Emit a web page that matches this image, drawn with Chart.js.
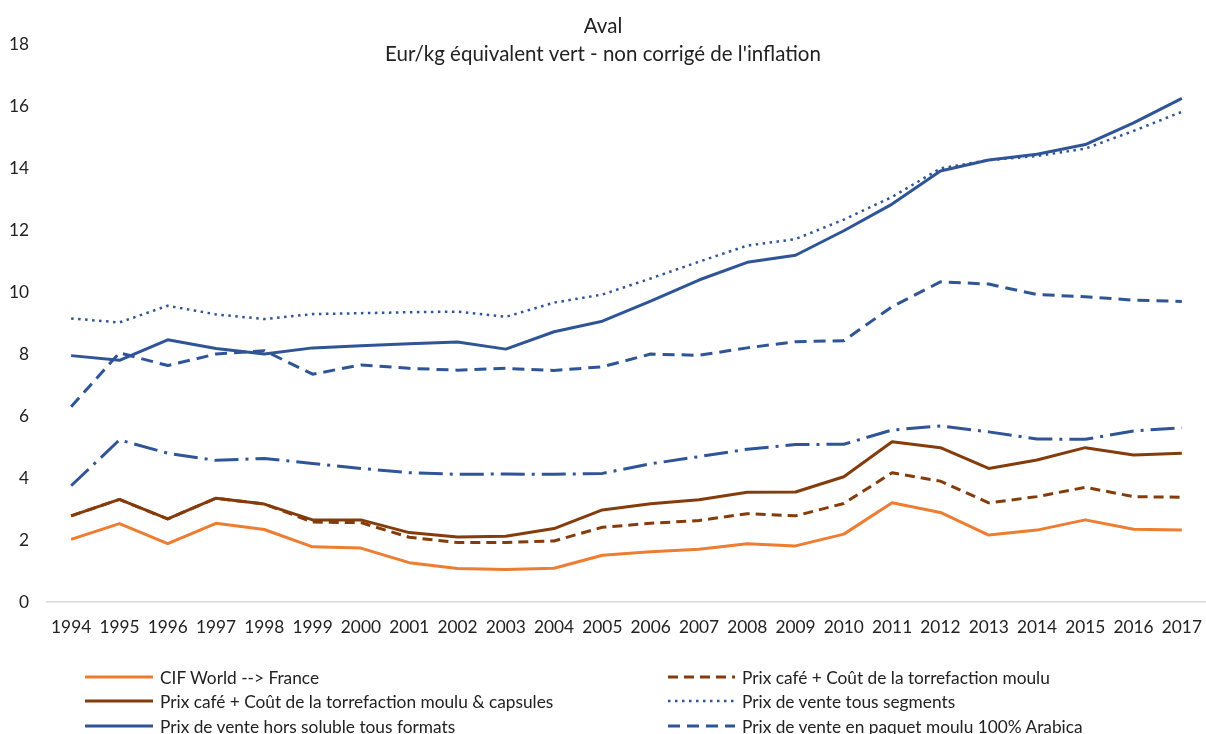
<!DOCTYPE html>
<html>
<head>
<meta charset="utf-8">
<script src="https://cdn.jsdelivr.net/npm/chart.js@4.4.1/dist/chart.umd.min.js"></script>
<style>
  html, body { margin: 0; padding: 0; background: #fff; }
  #wrap { position: relative; width: 1206px; height: 734px; overflow: hidden; }
  #c { position: absolute; left: 0; top: 0; }
  .lg { position: absolute; font-family: Lato, "Open Sans", sans-serif; font-size: 17.3px; color: #222; white-space: nowrap; display: flex; align-items: center; height: 22px; }
  .lg svg { margin-right: 7px; }
</style>
</head>
<body>
<div id="wrap">
  <canvas id="c" width="1206" height="734"></canvas>
  <div id="legend"></div>
</div>
<script>
// ---- Data ----
const years = ['1994','1995','1996','1997','1998','1999','2000','2001','2002','2003','2004','2005','2006','2007','2008','2009','2010','2011','2012','2013','2014','2015','2016','2017'];
const cifWorldFrance = [2.02, 2.53, 1.88, 2.54, 2.34, 1.78, 1.74, 1.27, 1.08, 1.05, 1.09, 1.51, 1.62, 1.70, 1.88, 1.81, 2.19, 3.20, 2.89, 2.16, 2.32, 2.65, 2.35, 2.32];
const prixMoulu = [2.78, 3.31, 2.68, 3.35, 3.16, 2.58, 2.56, 2.09, 1.92, 1.92, 1.97, 2.41, 2.54, 2.63, 2.85, 2.78, 3.18, 4.17, 3.90, 3.20, 3.40, 3.70, 3.40, 3.38];
const prixMouluCapsules = [2.78, 3.31, 2.68, 3.35, 3.16, 2.65, 2.65, 2.24, 2.10, 2.12, 2.37, 2.97, 3.17, 3.30, 3.54, 3.55, 4.04, 5.17, 4.98, 4.31, 4.58, 4.98, 4.74, 4.80];
const venteTousSegments = [9.15, 9.02, 9.56, 9.28, 9.13, 9.29, 9.32, 9.35, 9.37, 9.20, 9.66, 9.92, 10.44, 10.98, 11.50, 11.71, 12.34, 13.07, 13.99, 14.26, 14.39, 14.63, 15.20, 15.82];
const venteHorsSoluble = [7.95, 7.80, 8.46, 8.18, 8.00, 8.20, 8.27, 8.33, 8.39, 8.16, 8.72, 9.06, 9.71, 10.39, 10.96, 11.19, 11.98, 12.84, 13.91, 14.26, 14.45, 14.76, 15.46, 16.25];
const ventePaquetArabica = [6.30, 8.04, 7.63, 8.00, 8.11, 7.35, 7.65, 7.54, 7.48, 7.54, 7.47, 7.59, 8.00, 7.96, 8.20, 8.40, 8.43, 9.53, 10.33, 10.26, 9.92, 9.85, 9.74, 9.70];
const serieSeptieme = [3.75, 5.23, 4.80, 4.57, 4.63, 4.47, 4.31, 4.17, 4.12, 4.13, 4.12, 4.15, 4.46, 4.69, 4.93, 5.08, 5.09, 5.55, 5.68, 5.49, 5.26, 5.25, 5.52, 5.62];
const yTicks = [0, 2, 4, 6, 8, 10, 12, 14, 16, 18];
const titleLines = ['Aval', "Eur/kg équivalent vert - non corrigé de l'inflation"];

const ORANGE = '#ED7D31', BROWN = '#843C0C', BLUE = '#2F5597';
const FONT = 'Lato, "Open Sans", sans-serif';

const datasets = [
  { label: 'CIF World --> France', data: cifWorldFrance, borderColor: ORANGE, borderWidth: 3, borderDash: [], legend: true },
  { label: 'Prix café + Coût de la torrefaction moulu', data: prixMoulu, borderColor: BROWN, borderWidth: 3, borderDash: [10, 6], legend: true },
  { label: 'Prix café + Coût de la torrefaction moulu & capsules', data: prixMouluCapsules, borderColor: BROWN, borderWidth: 3, borderDash: [], legend: true },
  { label: 'Prix de vente tous segments', data: venteTousSegments, borderColor: BLUE, borderWidth: 2.5, borderDash: [2.5, 4.5], legend: true },
  { label: 'Prix de vente hors soluble tous formats', data: venteHorsSoluble, borderColor: BLUE, borderWidth: 3, borderDash: [], legend: true },
  { label: 'Prix de vente en paquet moulu 100% Arabica', data: ventePaquetArabica, borderColor: BLUE, borderWidth: 3, borderDash: [12, 7], legend: true },
  { label: '', data: serieSeptieme, borderColor: BLUE, borderWidth: 3, borderDash: [24, 7, 3, 7], legend: false }
].map(d => Object.assign({ pointRadius: 0, pointHoverRadius: 0, fill: false, tension: 0, borderJoinStyle: 'round' }, d));

const chart = new Chart(document.getElementById('c'), {
  type: 'line',
  data: { labels: years, datasets },
  options: {
    responsive: false,
    animation: false,
    layout: { padding: { left: 0, right: 0, top: 0, bottom: 92 } },
    plugins: {
      legend: { display: false },
      tooltip: { enabled: false },
      title: {
        display: true,
        text: titleLines,
        color: '#222',
        font: { family: FONT, size: 20.5, weight: 'normal', lineHeight: 1.37 },
        padding: { top: 12, bottom: -24 }
      }
    },
    scales: {
      x: {
        offset: true,
        grid: { display: false, drawTicks: true, tickLength: 15 },
        border: { display: true, color: '#D9D9D9', width: 1.5 },
        ticks: { color: '#222', font: { family: FONT, size: 17.3 }, padding: 0, maxRotation: 0, autoSkip: false },
        afterFit: s => { s.height = 40; }
      },
      y: {
        min: 0, max: 18,
        afterBuildTicks: s => { s.ticks = yTicks.map(v => ({ value: v })); },
        grid: { display: false, drawTicks: false },
        border: { display: false },
        ticks: { color: '#222', font: { family: FONT, size: 17.3 }, padding: 18 },
        afterFit: s => { s.width = 47; }
      }
    }
  }
});

// ---- HTML legend (two columns, row-major like the original) ----
const legendEl = document.getElementById('legend');
const cols = [{ x: 85, w: 68 }, { x: 668, w: 67 }];
const rowY = [677, 701, 726];
datasets.filter(d => d.legend).forEach((d, i) => {
  const col = cols[i % 2], row = rowY[Math.floor(i / 2)];
  const item = document.createElement('div');
  item.className = 'lg';
  item.style.left = col.x + 'px';
  item.style.top = (row - 11) + 'px';
  const dash = d.borderDash.length ? d.borderDash.join(' ') : 'none';
  item.innerHTML = '<svg width="' + col.w + '" height="6"><line x1="0" y1="3" x2="' + col.w + '" y2="3" stroke="' + d.borderColor +
    '" stroke-width="' + d.borderWidth + '" stroke-dasharray="' + dash + '"/></svg>';
  const span = document.createElement('span');
  span.textContent = d.label;
  item.appendChild(span);
  legendEl.appendChild(item);
});
</script>
</body>
</html>
